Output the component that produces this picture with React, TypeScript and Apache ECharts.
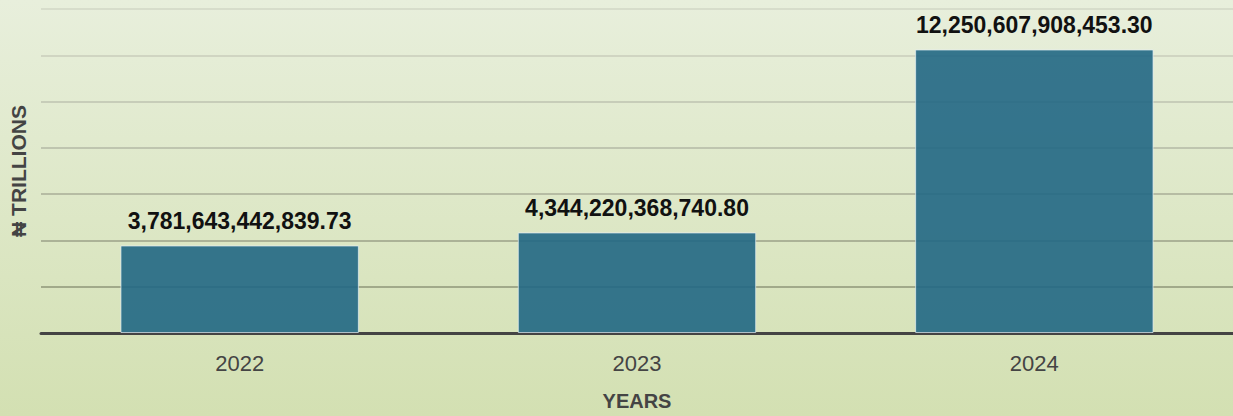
import React, { useEffect, useRef } from "react";
import * as echarts from "echarts";

const years = ["2022", "2023", "2024"];
const valuesTrillions = [3.78164344283973, 4.3442203687408, 12.2506079084533];
const valueLabels = ["3,781,643,442,839.73", "4,344,220,368,740.80", "12,250,607,908,453.30"];
const yMin = 0;
const yMax = 14;
const yInterval = 2;
const gridLineColors = ["#8e9679", "#8e9679", "#9ba188", "#a8ae97", "#b3b9a4", "#bec3b0", "#c8cdbb", "#d2d7c6"];

const FONT = "'Liberation Sans', Arial, Helvetica, sans-serif";

export default function App() {
  const ref = useRef<HTMLDivElement>(null);
  useEffect(() => {
    document.body.style.margin = "0";
    if (!ref.current) return;
    const chart = echarts.init(ref.current, null, { renderer: "svg" });
    chart.setOption({
      animation: false,
      backgroundColor: new echarts.graphic.LinearGradient(0, 0, 0, 1, [
        { offset: 0, color: "#e8efdc" },
        { offset: 1, color: "#d3e0b2" },
      ]),
      grid: { left: 39, right: 0, top: 9, bottom: 80, containLabel: false },
      xAxis: {
        type: "category",
        data: years,
        name: "YEARS",
        nameLocation: "middle",
        nameGap: 58,
        nameTextStyle: { fontFamily: FONT, fontSize: 20, fontWeight: "bold", color: "#444" },
        axisLine: { show: true, lineStyle: { color: "#444", width: 3 } },
        axisTick: { show: false },
        axisLabel: { fontFamily: FONT, fontSize: 22, color: "#444", margin: 19 },
      },
      yAxis: {
        type: "value",
        min: yMin,
        max: yMax,
        interval: yInterval,
        name: "₦ TRILLIONS",
        nameLocation: "middle",
        nameGap: 12,
        nameRotate: 90,
        nameTextStyle: { fontFamily: FONT, fontSize: 21, fontWeight: "bold", color: "#444" },
        axisLine: { show: false },
        axisTick: { show: false },
        axisLabel: { show: false },
        splitLine: { show: true, lineStyle: { color: gridLineColors, width: 1.5 } },
      },
      series: [
        {
          type: "bar",
          data: valuesTrillions.map((v, i) => ({ value: v, label: { formatter: valueLabels[i] } })),
          barWidth: "60%",
          itemStyle: {
            color: "rgba(33,103,132,0.9)",
            borderColor: "rgba(230,240,245,0.7)",
            borderWidth: 1,
          },
          label: {
            show: true,
            position: "top",
            distance: 13,
            fontFamily: FONT,
            fontSize: 23,
            fontWeight: "bold",
            color: "#111",
          },
        },
      ],
    });
    return () => chart.dispose();
  }, []);
  return <div ref={ref} style={{ width: 1233, height: 416 }} />;
}
